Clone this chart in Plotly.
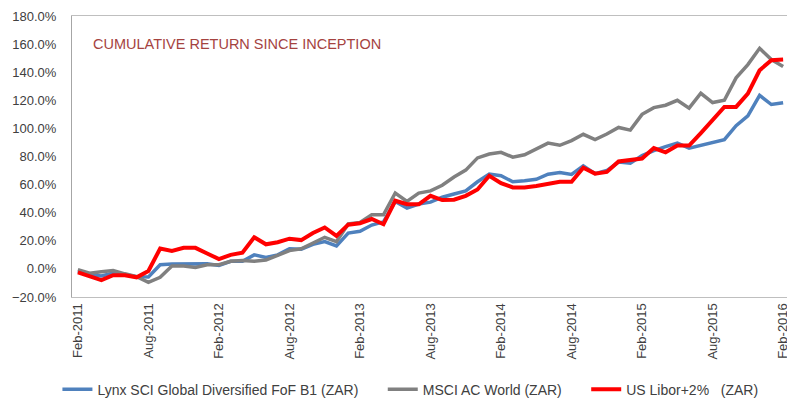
import plotly.graph_objects as go
import pandas as pd

months = [d.strftime("%b-%Y") for d in pd.date_range("2011-02-01", "2016-02-01", freq="MS")]

tick_labels = ["Feb-2011", "Aug-2011", "Feb-2012", "Aug-2012", "Feb-2013", "Aug-2013",
               "Feb-2014", "Aug-2014", "Feb-2015", "Aug-2015", "Feb-2016"]

lynx = [-1.5, -4, -5, -3, -4, -5.5, -5.8, 3, 3.5, 3.5, 3.7, 3.7, 2.5, 5.4, 5.4, 10, 8.2, 10,
        14.3, 14, 17.5, 19.5, 16.4, 25.5, 26.8, 31.2, 33.5, 48, 43.2, 46.2, 47.5, 51, 53.3,
        55.5, 62, 67.5, 66.3, 62, 62.8, 63.8, 67.4, 68.6, 67.2, 73.3, 67.8, 70, 76, 75.3,
        80.7, 84.2, 87, 89.6, 85.9, 87.8, 90, 92, 101.9, 109, 123.5, 117, 118.3]

msci = [-0.5, -3, -2, -1.2, -3.5, -5.5, -9.5, -6, 2, 2, 1, 3, 3, 5.4, 6, 5.4, 6.3, 9.4,
        13, 14.3, 18.3, 22.5, 19.4, 32, 33, 38.5, 38.5, 54, 48, 54, 55.5, 59.5, 65.4, 70.3,
        79, 81.8, 83, 79.5, 81.2, 85.7, 89.5, 88, 91.3, 95.8, 92, 96, 100.7, 98.8, 110,
        114.8, 116.5, 120, 114.4, 125, 118.4, 120, 136, 145.4, 157, 149, 144]

libor = [-2.5, -5, -8, -4.5, -4.5, -6, -1.5, 14.5, 12.8, 15, 15, 11, 7, 10, 11.5, 22.5,
         17.5, 19, 21.5, 20.5, 25.5, 29.5, 23.5, 31.5, 32.5, 35.5, 31.8, 48.5, 46, 46, 52,
         49, 49.2, 52, 56.5, 66.3, 61, 58, 58, 59, 60.5, 62, 62, 72, 67.8, 69, 76.5, 77.9,
         78.6, 86, 83, 87.8, 87.8, 96.7, 106, 115.3, 115.3, 124.7, 141.4, 148.5, 149]

series_names = ["Lynx SCI Global Diversified FoF B1 (ZAR)\u00a0\u00a0\u00a0\u00a0\u00a0",
                "MSCI AC World (ZAR)\u00a0\u00a0\u00a0\u00a0\u00a0",
                "US Libor+2%\u00a0\u00a0\u00a0(ZAR)"]

fig = go.Figure()
fig.add_trace(go.Scatter(x=months, y=lynx, mode="lines", name=series_names[0],
                         line=dict(color="#4F81BD", width=3.5)))
fig.add_trace(go.Scatter(x=months, y=msci, mode="lines", name=series_names[1],
                         line=dict(color="#808080", width=3.5)))
fig.add_trace(go.Scatter(x=months, y=libor, mode="lines", name=series_names[2],
                         line=dict(color="#FF0000", width=4)))

fig.add_annotation(text="CUMULATIVE RETURN SINCE INCEPTION", xref="paper", yref="y",
                   x=0.026, y=160, xanchor="left", yanchor="middle", showarrow=False,
                   font=dict(family="Liberation Sans, Arial", size=14.5, color="#A5433F"))

# page body has an 8px margin, so the figure is sized/offset to compensate
fig.update_layout(
    width=787, height=395,
    margin=dict(l=64, r=6, t=8, b=106, autoexpand=False),
    paper_bgcolor="white", plot_bgcolor="white",
    font=dict(family="Liberation Sans, Arial", size=13, color="#404040"),
    showlegend=True,
    legend=dict(orientation="h", x=0.472, xanchor="center", y=-0.33, yanchor="middle",
                font=dict(size=14, color="#404040"), traceorder="normal"),
    xaxis=dict(type="category", range=[-0.5, 60.5], tickmode="array",
               tickvals=tick_labels, ticktext=tick_labels, tickangle=-90,
               showline=True, mirror=True, linecolor="#BFBFBF", linewidth=1,
               showgrid=False, ticks="", zeroline=False, automargin=False),
    yaxis=dict(range=[-20, 180], dtick=20, tick0=-20, tickformat=".1f", ticksuffix="%",
               showline=True, linecolor="#A6A6A6", linewidth=1, showgrid=False,
               zeroline=False, ticks="", automargin=False, ticklabelstandoff=12),
)

fig.write_html("out.html")
